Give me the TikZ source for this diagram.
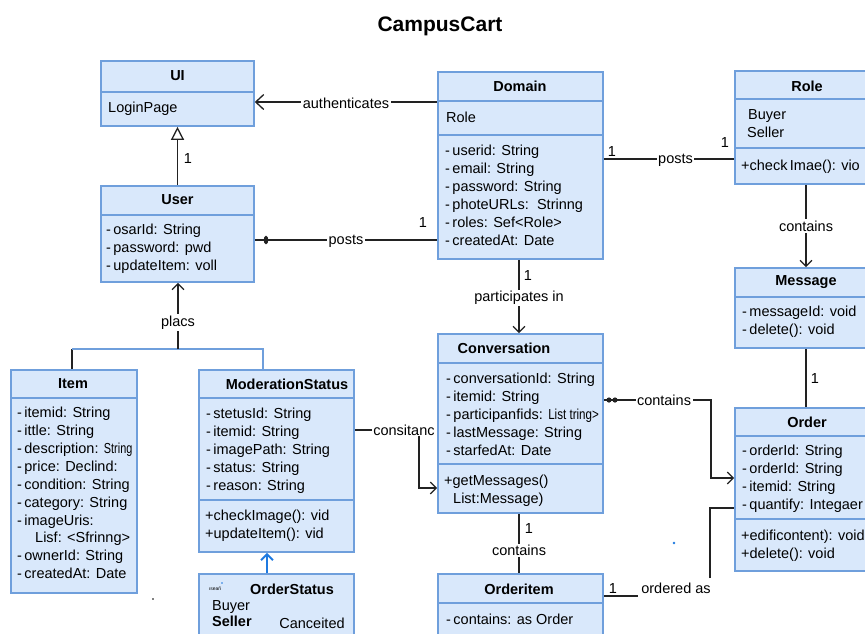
\documentclass[tikz,border=0pt]{standalone}
\usepackage{fontspec}
\setmainfont{Liberation Sans}
\usetikzlibrary{fit,arrows.meta}
\definecolor{boxfill}{HTML}{D9E8FB}
\definecolor{boxline}{HTML}{6F9FDC}
\definecolor{lncol}{HTML}{222222}
\definecolor{bluearrow}{HTML}{1F7AE0}
\tikzset{
 cls/.style={draw=boxline, fill=boxfill, line width=1.6pt, inner sep=0pt},
 sepline/.style={draw=boxline, line width=1.4pt},
 ttl/.style={font=\fontsize{14.5}{17}\selectfont\bfseries, inner sep=0pt},
 attr/.style={font=\fontsize{14.5}{17}\selectfont, anchor=mid west, inner sep=0pt, yshift=-2pt},
 lbl/.style={font=\fontsize{14.5}{17}\selectfont, fill=white, inner sep=1.5pt},
 plain/.style={font=\fontsize{14.5}{17}\selectfont, inner sep=0pt},
 mult/.style={font=\fontsize{14.5}{17}\selectfont, inner sep=0pt},
 conn/.style={draw=lncol, line width=1.3pt},
 arr/.style={conn, -{Straight Barb[length=6pt,width=12pt,line width=1.3pt]}},
}
\begin{document}
\begin{tikzpicture}[x=1pt,y=-1pt]
\fill[white] (0,0) rectangle (865,633);
\clip (0,0) rectangle (865,633);
\node[font=\fontsize{21}{24}\selectfont\bfseries] (title) at (440,26) {CampusCart};

% ---------- UI ----------
\node[cls, fit={(101,61)(254,126)}] (ui) {};
\draw[sepline] (101,92) -- (254,92);
\node[ttl] (uit) at (177.5,76) {UI};
\node[attr] (uia) at (108,108) {LoginPage};

% ---------- User ----------
\node[cls, fit={(101,186)(254,282)}] (user) {};
\draw[sepline] (101,215) -- (254,215);
\node[ttl] (usert) at (177.5,200) {User};
\foreach \t [count=\i from 0] in {{-\,osarId: String},{-\,password: pwd},{-\,updateItem: voll}}
  \node[attr] (usera\i) at (106,{230+18*\i}) {\t};

% ---------- Domain ----------
\node[cls, fit={(438,72)(603,259)}] (domain) {};
\draw[sepline] (438,101) -- (603,101);
\draw[sepline] (438,135) -- (603,135);
\node[ttl] (domaint) at (520,86) {Domain};
\node[attr] (domainr) at (446,118) {Role};
\foreach \t [count=\i from 0] in {{-\,userid: String},{-\,email: String},{-\,password: String},{-\,photeURLs:\ \ Strinng},{-\,roles: Sef<Role>},{-\,createdAt: Date}}
  \node[attr] (domaina\i) at (445,{151+17.9*\i}) {\t};

% ---------- Role ----------
\node[cls, fit={(735,71)(880,184)}] (role) {};
\draw[sepline] (735,99) -- (880,99);
\draw[sepline] (735,148) -- (880,148);
\node[ttl] (rolet) at (807,86) {Role};
\node[attr] (roleb) at (748,115) {Buyer};
\node[attr] (roles) at (747,133) {Seller};
\node[attr] (rolem) at (741,166) {+check\,Imae(): vio};

% ---------- Message ----------
\node[cls, fit={(735,268)(880,348)}] (message) {};
\draw[sepline] (735,297) -- (880,297);
\node[ttl] (messaget) at (806,282) {Message};
\node[attr] (messagea0) at (742,312) {-\,messageId: void};
\node[attr] (messagea1) at (742,330) {-\,delete(): void};

% ---------- Order ----------
\node[cls, fit={(735,408)(880,571)}] (order) {};
\draw[sepline] (735,436) -- (880,436);
\draw[sepline] (735,519) -- (880,519);
\node[ttl] (ordert) at (807,422) {Order};
\foreach \t [count=\i from 0] in {{-\,orderId: String},{-\,orderId: String},{-\,itemid: String},{-\,quantify: Integaer}}
  \node[attr] (ordera\i) at (742,{451+17.9*\i}) {\t};
\node[attr] (orderm0) at (741,536) {+edificontent): void};
\node[attr] (orderm1) at (741,554) {+delete(): void};

% ---------- Conversation ----------
\node[cls, fit={(438,334)(603,513)}] (conv) {};
\draw[sepline] (438,363) -- (603,363);
\draw[sepline] (438,464) -- (603,464);
\node[ttl] (convt) at (504,348) {Conversation};
\foreach \t [count=\i from 0] in {{-\,conversationId: String},{-\,itemid: String},{-\,participanfids: \scalebox{0.8}[1]{List tring>}},{-\,lastMessage: String},{-\,starfedAt: Date}}
  \node[attr] (conva\i) at (446,{379+17.9*\i}) {\t};
\node[attr] (convm0) at (444,481) {+getMessages()};
\node[attr] (convm1) at (453,499) {List:Message)};

% ---------- ModerationStatus ----------
\node[cls, fit={(199,370)(354,552)}] (mod) {};
\draw[sepline] (199,398) -- (354,398);
\draw[sepline] (199,500) -- (354,500);
\node[ttl] (modt) at (287,384) {ModerationStatus};
\foreach \t [count=\i from 0] in {{-\,stetusId: String},{-\,itemid: String},{-\,imagePath: String},{-\,status: String},{-\,reason: String}}
  \node[attr] (moda\i) at (206,{414+18*\i}) {\t};
\node[attr] (modm0) at (205,516) {+checkImage(): vid};
\node[attr] (modm1) at (205,534) {+updateItem(): vid};

% ---------- Item ----------
\node[cls, fit={(11,370)(137,593)}] (item) {};
\draw[sepline] (11,398) -- (137,398);
\node[ttl] (itemt) at (73,384) {Item};
\foreach \t [count=\i from 0] in {{-\,itemid: String},{-\,ittle: String},{-\,description: \scalebox{0.75}[1]{String}},{-\,price: Declind:},{-\,condition: String},{-\,category: String},{-\,imageUris:},{\hspace*{18pt}Lisf: <Sfrinng>},{-\,ownerId: String},{-\,createdAt: Date}}
  \node[attr] (itema\i) at (17,{413+17.9*\i}) {\t};

% ---------- Orderitem ----------
\node[cls, fit={(438,574)(603,645)}] (orderitem) {};
\draw[sepline] (438,603) -- (603,603);
\node[ttl] (orderitemt) at (519,589) {Orderitem};
\node[attr] (orderitema) at (446,620) {-\,contains: as Order};

% ---------- OrderStatus ----------
\node[cls, fit={(199,574)(354,645)}] (ostatus) {};
\node[inner sep=0pt, font=\fontsize{5}{6}\selectfont] (ostiny) at (215,589) {ıseaŕi};
\fill[bluearrow] (222,583) circle (0.9);
\node[ttl] (ostt) at (292,589) {OrderStatus};
\node[attr] (ostb) at (212,606) {Buyer};
\node[attr, font=\fontsize{14.5}{17}\selectfont\bfseries] (osts) at (212,622) {Seller};
\node[plain] (ostc) at (312,623) {Canceited};

% ---------- connectors ----------
% authenticates
\draw[conn, -{Straight Barb[length=8pt,width=15pt,line width=1.3pt]}] (domain.west |- 0,102) -- node[lbl, yshift=-1pt] (lauth) {authenticates} (ui.east |- 0,102);
% inheritance User -> UI
\draw[conn, -{Triangle[open,length=13pt,width=13pt,line width=1.3pt]}] (user.north) -- (ui.south);
\node[mult] (m1) at (188,159) {1};
% posts User - Domain
\draw[conn] (user.east |- 0,240) -- node[lbl, pos=0.5, yshift=-1pt] (lposts1) {posts} (domain.west |- 0,240);
\draw[conn, fill=lncol] (266,240) ellipse (1.6 and 3.5);
\node[mult] (m2) at (423,223) {1};
% posts Domain - Role
\draw[conn] (domain.east |- 0,159) -- node[lbl, pos=0.55, yshift=-1pt] (lposts2) {posts} (role.west |- 0,159);
\node[mult] (m3) at (612,152) {1};
\node[mult] (m4) at (725,143) {1};
% Role -> Message
\draw[arr] (role.south -| 806,0) -- node[lbl, pos=0.5] (lcont1) {contains} (message.north -| 806,0);
% Message - Order
\draw[conn] (message.south -| 806,0) -- (order.north -| 806,0);
\node[mult] (m5) at (815,379) {1};
% Domain -> Conversation
\draw[arr] (domain.south -| 519,0) -- node[lbl, pos=0.52] (lpart) {participates in} (conv.north -| 519,0);
\node[mult] (m6) at (528,276) {1};
% Conversation -> Order
\draw[arr] (conv.east |- 0,400) -- (711,400) -- (711,478) -- (order.west |- 0,478);
\node[lbl] (lcont2) at (664,400) {contains};
\fill[lncol] (609,400) circle (2.6);
\fill[lncol] (615,400) circle (2.6);
% ModerationStatus -> Conversation
\draw[arr] (mod.east |- 0,430) -- (419,430) -- (419,488) -- (conv.west |- 0,488);
\node[lbl, inner sep=1pt] (lcons) at (404,430) {consitanc};
% Item / ModerationStatus -> User (placs)
\coordinate (junc) at (178,349);
\draw[conn] (item.north -| 72,0) -- (72,349);
\draw[draw=boxline, line width=1.4pt] (72,349) -- (263,349) -- (mod.north -| 263,0);
\draw[arr] (junc) -- node[lbl, pos=0.4] (lplacs) {placs} (user.south -| junc);
% OrderStatus -> ModerationStatus
\draw[draw=bluearrow, line width=2.2pt, -{Straight Barb[length=6pt,width=12pt,line width=2pt]}] (ostatus.north -| 267,0) -- (mod.south -| 267,0);
% Conversation - Orderitem
\draw[conn] (conv.south -| 519,0) -- node[lbl, pos=0.62] (lcont3) {contains} (orderitem.north -| 519,0);
\node[mult] (m7) at (529,529) {1};
% Orderitem - Order (ordered as)
\node[plain] (lord) at (676,588) {ordered as};
\draw[conn] (orderitem.east |- 0,596) -- (638,596);
\draw[conn] (710,578) -- (710,508) -- (order.west |- 0,508);
\node[mult] (m8) at (613,589) {1};
% stray dots
\fill[bluearrow] (674,543) circle (1.3);
\fill[black] (153,599) circle (0.9);
\end{tikzpicture}
\end{document}
